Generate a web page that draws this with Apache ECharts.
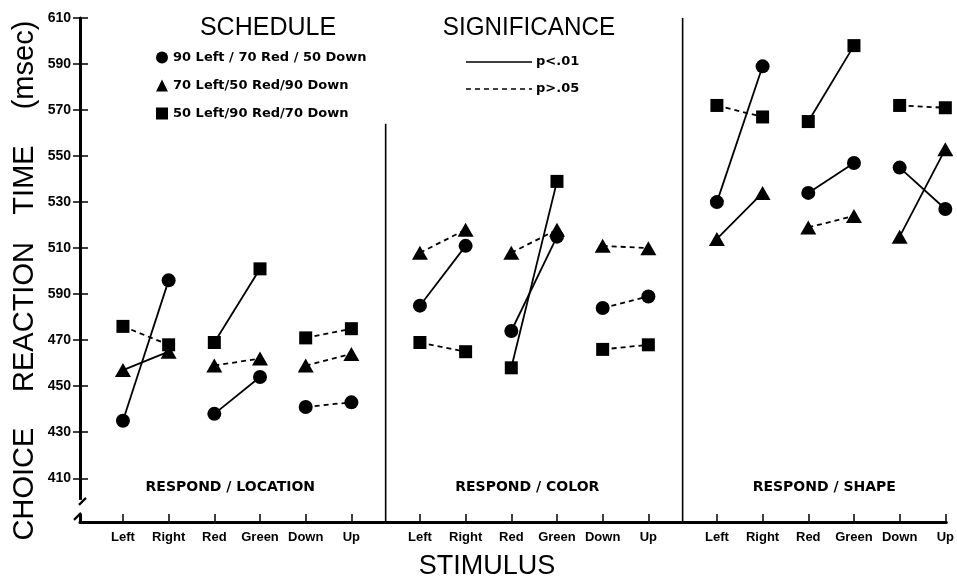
<!DOCTYPE html>
<html>
<head>
<meta charset="utf-8">
<script src="https://cdn.jsdelivr.net/npm/echarts@6/dist/echarts.min.js"></script>
<style>
  html, body { margin: 0; padding: 0; background: #fff; }
  #chart { width: 957px; height: 580px; }
</style>
</head>
<body>
<div id="chart"></div>
<script>
// stimulus positions on the x axis (three panels of six)
var stimulus = ['Left', 'Right', 'Red', 'Green', 'Down', 'Up',
                'Left', 'Right', 'Red', 'Green', 'Down', 'Up',
                'Left', 'Right', 'Red', 'Green', 'Down', 'Up'];
var stimulusPos = [0, 1, 2, 3, 4, 5, 6.5, 7.5, 8.5, 9.5, 10.5, 11.5, 13, 14, 15, 16, 17, 18];
var panelNames = ['RESPOND / LOCATION', 'RESPOND / COLOR', 'RESPOND / SHAPE'];
var dividerPos = [5.75, 12.25];
var dividerTop = [564, 610];

var yTicks = [410, 430, 450, 470, 490, 510, 530, 550, 570, 590, 610];
var yTickLabels = ['410', '430', '450', '470', '590', '510', '530', '550', '570', '590', '610'];

var schedules = ['90 Left / 70 Red / 50 Down', '70 Left/50 Red/90 Down', '50 Left/90 Red/70 Down'];

// reaction times (msec), one per stimulus
var circleRT   = [435, 496, 438, 454, 441, 443, 485, 511, 474, 515, 484, 489, 530, 589, 534, 547, 545, 527];
var triangleRT = [457, 465, 459, 462, 459, 464, 508, 518, 508, 518, 511, 510, 514, 534, 519, 524, 515, 553];
var squareRT   = [476, 468, 469, 501, 471, 475, 469, 465, 458, 539, 466, 468, 572, 567, 565, 598, 572, 571];

// significance per stimulus pair: 1 = p<.01 (solid), 0 = p>.05 (dashed)
var circleSig   = [1, 1, 0, 1, 1, 0, 1, 1, 1];
var triangleSig = [1, 0, 0, 0, 0, 0, 1, 0, 1];
var squareSig   = [0, 1, 0, 0, 1, 0, 0, 1, 0];

var groups = [
  { name: schedules[0], symbol: 'circle', size: 14, values: circleRT, sig: circleSig },
  { name: schedules[1], symbol: 'triangle', size: [16, 14], values: triangleRT, sig: triangleSig },
  { name: schedules[2], symbol: 'rect', size: 13, values: squareRT, sig: squareSig }
];

var FONT = 'Liberation Sans';
var BOLD = 'DejaVu Sans';
var dom = document.getElementById('chart');
var chart = echarts.init(dom);

var series = [];
groups.forEach(function (g) {
  for (var p = 0; p < g.sig.length; p++) {
    series.push({
      type: 'line',
      data: [[stimulusPos[2 * p], g.values[2 * p]], [stimulusPos[2 * p + 1], g.values[2 * p + 1]]],
      symbol: 'none',
      silent: true,
      z: 2,
      lineStyle: { color: '#000', width: 1.8, type: g.sig[p] ? 'solid' : [5, 4] }
    });
  }
});
dividerPos.forEach(function (x, i) {
  series.push({
    type: 'line',
    data: [[x, 391], [x, dividerTop[i]]],
    symbol: 'none',
    silent: true,
    lineStyle: { color: '#000', width: 1.6 }
  });
});
groups.forEach(function (g) {
  series.push({
    type: 'scatter',
    name: g.name,
    symbol: g.symbol,
    symbolSize: g.size,
    z: 3,
    itemStyle: { color: '#000', opacity: 1 },
    data: g.values.map(function (v, i) { return [stimulusPos[i], v]; })
  });
});

var option = {
  animation: false,
  backgroundColor: '#fff',
  grid: { left: 80, right: 9, top: 18, bottom: 58 },
  xAxis: {
    type: 'value',
    min: -0.94,
    max: 18.02,
    splitLine: { show: false },
    axisLine: { onZero: false, lineStyle: { color: '#000', width: 3 } },
    axisTick: {
      inside: true, length: 8, customValues: stimulusPos,
      lineStyle: { color: '#000', width: 1.5 }
    },
    axisLabel: {
      customValues: stimulusPos,
      margin: 9,
      color: '#000',
      fontFamily: FONT,
      fontWeight: 'bold',
      fontSize: 13,
      formatter: function (v) { return stimulus[stimulusPos.indexOf(v)]; }
    }
  },
  yAxis: [{
    type: 'value',
    min: 391,
    max: 610,
    splitLine: { show: false },
    axisLine: { onZero: false, lineStyle: { color: '#000', width: 3 } },
    axisTick: { length: 7, customValues: yTicks, lineStyle: { color: '#000', width: 1.5 } },
    axisLabel: {
      customValues: yTicks,
      margin: 9,
      color: '#000',
      fontFamily: FONT,
      fontWeight: 'bold',
      fontSize: 14,
      formatter: function (v) { return yTickLabels[yTicks.indexOf(v)]; }
    }
  }, {
    type: 'value',
    min: 391,
    max: 610,
    position: 'left',
    splitLine: { show: false },
    axisLine: { show: false, onZero: false },
    axisTick: { show: true, inside: true, length: 8, customValues: yTicks, lineStyle: { color: '#000', width: 1.5 } },
    axisLabel: { show: false }
  }],
  legend: {
    orient: 'vertical',
    left: 151,
    top: 45,
    itemGap: 13,
    itemWidth: 12,
    itemHeight: 12,
    selectedMode: false,
    data: schedules,
    textStyle: { color: '#000', fontFamily: BOLD, fontWeight: 'bold', fontSize: 13, lineHeight: 15 }
  },
  series: series
};
chart.setOption(option);

// texts and the axis break, placed from the grid
var origin = chart.convertToPixel({ gridIndex: 0 }, [-0.94, 391]);
var brk = chart.convertToPixel({ gridIndex: 0 }, [-0.94, 398]);
var graphic = [];
panelNames.forEach(function (name, i) {
  var xs = stimulusPos.slice(i * 6, i * 6 + 6);
  var cx = (xs[0] + xs[5]) / 2 - 0.15;
  var pt = chart.convertToPixel({ gridIndex: 0 }, [cx, 406]);
  graphic.push({
    type: 'text', x: pt[0], y: pt[1],
    style: { text: name, align: 'center', verticalAlign: 'middle', fill: '#000',
             font: 'bold 14px "' + BOLD + '"' }
  });
});
function plainText(t, x, y, size, rot, sx) {
  return {
    type: 'text', x: x, y: y, rotation: rot || 0, scaleX: sx || 1,
    style: { text: t, align: 'center', verticalAlign: 'middle', fill: '#000',
             font: size + 'px "' + FONT + '"' }
  };
}
graphic.push(plainText('SCHEDULE', 268, 28, 25));
graphic.push(plainText('SIGNIFICANCE', 529, 28, 25, 0, 0.97));
graphic.push(plainText('STIMULUS', 487, 567, 27));
graphic.push(plainText('(msec)', 25, 65, 29, Math.PI / 2));
graphic.push(plainText('TIME', 25, 180, 29, Math.PI / 2));
graphic.push(plainText('REACTION', 25, 317, 29, Math.PI / 2));
graphic.push(plainText('CHOICE', 25, 484, 29, Math.PI / 2));
// significance key
graphic.push({ type: 'line', shape: { x1: 466, y1: 62, x2: 532, y2: 62 }, style: { stroke: '#000', lineWidth: 1.6 } });
graphic.push({ type: 'line', shape: { x1: 466, y1: 89, x2: 532, y2: 89 }, style: { stroke: '#000', lineWidth: 1.6, lineDash: [5, 4] } });
graphic.push({ type: 'text', x: 536, y: 62, style: { text: 'p<.01', verticalAlign: 'middle', fill: '#000', font: 'bold 13px "' + BOLD + '"' } });
graphic.push({ type: 'text', x: 536, y: 89, style: { text: 'p>.05', verticalAlign: 'middle', fill: '#000', font: 'bold 13px "' + BOLD + '"' } });
// axis break
var bx = origin[0], by = brk[1];
graphic.push({ type: 'rect', shape: { x: bx - 4, y: by - 6, width: 8, height: 14 }, style: { fill: '#fff' }, z: 100 });
graphic.push({ type: 'line', shape: { x1: bx - 1, y1: by - 1, x2: bx + 6, y2: by - 8 }, style: { stroke: '#000', lineWidth: 2.2 }, z: 101 });
graphic.push({ type: 'line', shape: { x1: bx - 6, y1: by + 14, x2: bx + 1, y2: by + 7 }, style: { stroke: '#000', lineWidth: 2.2 }, z: 101 });
chart.setOption({ graphic: graphic });

window.addEventListener('resize', chart.resize);
</script>
</body>
</html>
